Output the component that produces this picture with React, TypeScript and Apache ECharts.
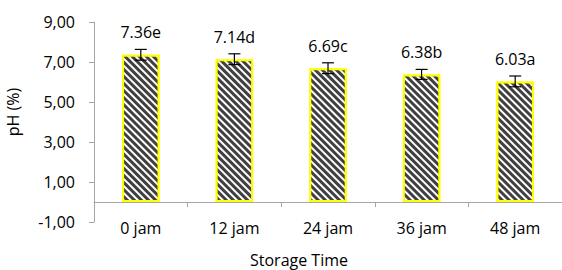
import React, { useEffect, useRef } from "react";
import * as echarts from "echarts";

const categories = ["0 jam", "12 jam", "24 jam", "36 jam", "48 jam"];
const phValues = [7.36, 7.14, 6.69, 6.38, 6.03];
const errValues = [0.27, 0.27, 0.27, 0.25, 0.27];
const letters = ["e", "d", "c", "b", "a"];
const yTicks = { min: -1, max: 9, interval: 2 };
const xTitle = "Storage Time";
const yTitle = "pH (%)";

const FONT = '"Open Sans", "Noto Sans", sans-serif';

export default function App() {
  const ref = useRef<HTMLDivElement>(null);
  useEffect(() => {
    if (!ref.current) return;
    const chart = echarts.init(ref.current, undefined, { renderer: "svg" });
    const errData = phValues.map((v, i) => [i, v, errValues[i]]);
    chart.setOption({
      animation: false,
      grid: { left: 94, top: 22, height: 200, width: 473 },
      xAxis: {
        type: "category",
        data: categories,
        axisLine: { onZero: true, lineStyle: { color: "#A6A6A6", width: 1 } },
        axisTick: { show: true, length: 5, lineStyle: { color: "#A6A6A6" } },
        axisLabel: { margin: -2, fontSize: 16, fontFamily: FONT, color: "#000" },
      },
      yAxis: {
        type: "value",
        min: yTicks.min,
        max: yTicks.max,
        interval: yTicks.interval,
        splitLine: { show: false },
        axisLine: { show: true, lineStyle: { color: "#A6A6A6", width: 1 } },
        axisTick: { show: true, length: 5, lineStyle: { color: "#A6A6A6" } },
        axisLabel: {
          margin: 19,
          fontSize: 16,
          fontFamily: FONT,
          color: "#000",
          formatter: (v: number) => v.toFixed(2).replace(".", ","),
        },
      },
      series: [
        {
          type: "bar",
          data: phValues,
          barWidth: "40%",
          itemStyle: {
            color: "#ffffff",
            borderColor: "#FFFF00",
            borderWidth: 2,
            decal: {
              symbol: "rect",
              symbolSize: 1,
              color: "#404040",
              dashArrayX: [1, 0],
              dashArrayY: [2.2, 1.8],
              rotation: Math.PI / 4,
            },
          },
        },
        {
          type: "custom",
          data: errData,
          encode: { x: 0, y: 1 },
          z: 10,
          renderItem: (params: any, api: any) => {
            const i = api.value(0);
            const v = api.value(1);
            const e = api.value(2);
            const top = api.coord([i, v + e]);
            const bot = api.coord([i, v - e]);
            const hw = 6;
            const ls = { stroke: "#000", lineWidth: 1.2 };
            return {
              type: "group",
              children: [
                { type: "line", shape: { x1: top[0], y1: top[1], x2: bot[0], y2: bot[1] }, style: ls },
                { type: "line", shape: { x1: top[0] - hw, y1: top[1], x2: top[0] + hw, y2: top[1] }, style: ls },
                { type: "line", shape: { x1: bot[0] - hw, y1: bot[1], x2: bot[0] + hw, y2: bot[1] }, style: ls },
                {
                  type: "text",
                  style: {
                    text: phValues[i].toFixed(2) + letters[i],
                    x: top[0],
                    y: top[1] - 17,
                    align: "center",
                    verticalAlign: "middle",
                    fontSize: 16,
                    fontFamily: FONT,
                    fill: "#000",
                  },
                },
              ],
            };
          },
        },
      ],
      graphic: [
        {
          type: "text",
          x: 13,
          y: 112,
          rotation: Math.PI / 2,
          style: {
            text: yTitle,
            align: "center",
            verticalAlign: "middle",
            fontSize: 16,
            fontFamily: FONT,
            fill: "#000",
          },
        },
        {
          type: "text",
          x: 299,
          y: 260,
          style: {
            text: xTitle,
            align: "center",
            verticalAlign: "middle",
            fontSize: 16,
            fontFamily: FONT,
            fill: "#000",
          },
        },
      ],
    });
    return () => chart.dispose();
  }, []);
  return <div ref={ref} style={{ width: 562, height: 270, position: "absolute", left: 0, top: 0 }} />;
}
